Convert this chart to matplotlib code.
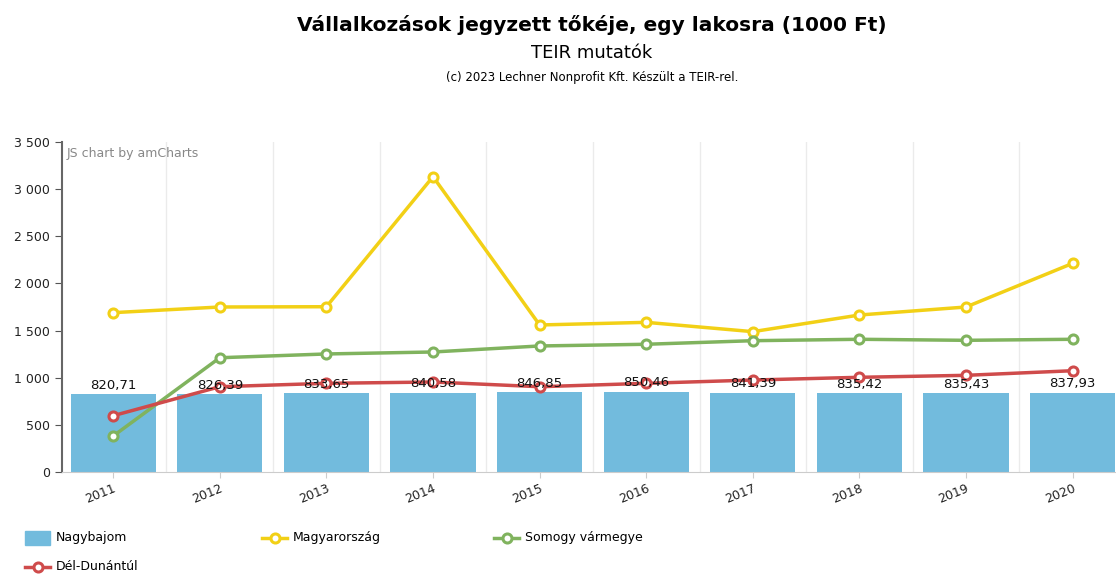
import numpy as np
import matplotlib.pyplot as plt
from matplotlib.lines import Line2D
from matplotlib.patches import Rectangle
from matplotlib.ticker import FuncFormatter

years = ["2011", "2012", "2013", "2014", "2015", "2016", "2017", "2018", "2019", "2020"]
nagybajom = [820.71, 826.39, 833.65, 840.58, 846.85, 850.46, 841.39, 835.42, 835.43, 837.93]
magyarorszag = [1690, 1750, 1753, 3135, 1559, 1587, 1488, 1665, 1750, 2214]
somogy = [379, 1211, 1251, 1272, 1336, 1354, 1392, 1407, 1396, 1407]
del_dunantul = [595, 903, 939, 953, 903, 939, 974, 1003, 1024, 1073]

BAR_C = "#72bbdd"
YEL = "#f2d016"
GRN = "#80b35e"
RED = "#cf4b4b"


def fmt_hu(v, pos=None):
    return "{:,.0f}".format(v).replace(",", " ")


def main():
    fig = plt.figure(figsize=(11.16, 5.75), dpi=100)
    W, H = 1116, 575
    ax = fig.add_axes([62 / W, (H - 471.7) / H, (1126 - 62) / W, 329.4 / H])
    x = np.arange(len(years))

    ax.bar(x, nagybajom, width=0.8, color=BAR_C, zorder=2)
    for xi, v in zip(x, nagybajom):
        ax.text(xi, v + 25, ("%.2f" % v).replace(".", ","), ha="center", va="bottom",
                fontsize=9.5, color="#111111", zorder=5)

    for vals, col in [(magyarorszag, YEL), (somogy, GRN), (del_dunantul, RED)]:
        ax.plot(x, vals, color=col, lw=2.5, marker="o", ms=6.5, mfc="white",
                mec=col, mew=2.2, zorder=4)

    ax.set_xlim(-0.48, 9.5)
    ax.set_ylim(0, 3500)
    ax.set_yticks(np.arange(0, 3501, 500))
    ax.yaxis.set_major_formatter(FuncFormatter(fmt_hu))
    ax.set_xticks(x)
    ax.set_xticklabels(years, rotation=22, ha="right", rotation_mode="anchor")
    ax.tick_params(axis="y", length=5, color="#555555", labelsize=9, labelcolor="#222222")
    ax.tick_params(axis="x", length=4, color="#cccccc", labelsize=9, labelcolor="#222222")

    for b in x[:-1] + 0.5:
        ax.axvline(b, color="#ebebeb", lw=1, zorder=1)

    for s in ["top", "right"]:
        ax.spines[s].set_visible(False)
    ax.spines["left"].set_color("#666666")
    ax.spines["left"].set_linewidth(1.5)
    ax.spines["bottom"].set_color("#cccccc")

    ax.text(0.004, 0.985, "JS chart by amCharts", transform=ax.transAxes, fontsize=9,
            color="#888888", va="top", ha="left")

    fig.text(592 / W, 1 - 25 / H, "Vállalkozások jegyzett tőkéje, egy lakosra (1000 Ft)",
             ha="center", va="center", fontsize=14.5, fontweight="bold")
    fig.text(592 / W, 1 - 53 / H, "TEIR mutatók", ha="center", va="center", fontsize=13)
    fig.text(592 / W, 1 - 78 / H, "(c) 2023 Lechner Nonprofit Kft. Készült a TEIR-rel.",
             ha="center", va="center", fontsize=8.5)

    # legend
    fig.patches.append(Rectangle((25 / W, 1 - 545 / H), 25 / W, 14 / H,
                                 transform=fig.transFigure, color=BAR_C))
    fig.text(56 / W, 1 - 538 / H, "Nagybajom", va="center", fontsize=9)
    legend_items = [(262, 538, YEL, "Magyarország"), (494, 538, GRN, "Somogy vármegye"),
                    (25, 567, RED, "Dél-Dunántúl")]
    for lx, ly, col, lab in legend_items:
        fig.add_artist(Line2D([lx / W, (lx + 25) / W], [1 - ly / H, 1 - ly / H],
                              transform=fig.transFigure, color=col, lw=2.5))
        fig.add_artist(Line2D([(lx + 12.5) / W], [1 - ly / H], transform=fig.transFigure,
                              marker="o", ms=6.5, mfc="white", mec=col, mew=2.2))
        fig.text((lx + 31) / W, 1 - ly / H, lab, va="center", fontsize=9)

    plt.savefig("out.png", dpi=100)
    plt.close()


if __name__ == "__main__":
    main()
